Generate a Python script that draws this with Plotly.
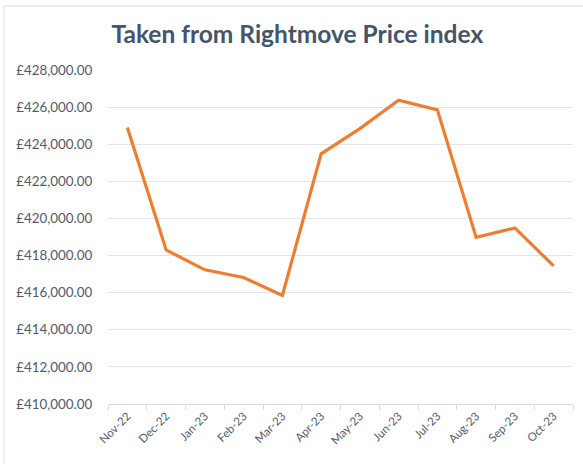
import plotly.graph_objects as go

months = ["Nov-22", "Dec-22", "Jan-23", "Feb-23", "Mar-23", "Apr-23",
          "May-23", "Jun-23", "Jul-23", "Aug-23", "Sep-23", "Oct-23"]
prices = [424900, 418300, 417230, 416820, 415850, 423480,
          424840, 426370, 425850, 418980, 419490, 417440]
y_ticks = list(range(410000, 428001, 2000))
y_tick_labels = ["\u00a3{:,.2f}".format(v) for v in y_ticks]

TEXT = "#505a6b"
GRID = "#e1e4ea"
FONT = "Lato, 'Open Sans', sans-serif"

fig = go.Figure()
fig.add_trace(go.Scatter(
    x=months, y=prices, mode="lines",
    line=dict(color="#ED7D31", width=3.2),
    hoverinfo="skip",
))

fig.update_layout(
    width=583, height=464,
    margin=dict(l=108, r=10, t=70, b=60, autoexpand=False),
    paper_bgcolor="white", plot_bgcolor="white",
    showlegend=False,
    font=dict(family=FONT, color=TEXT, size=12),
    title=dict(
        text="<b>Taken from Rightmove Price index</b>",
        x=0.51, xanchor="center", y=0.925, yanchor="middle",
        font=dict(size=24.5, color="#44546A", family=FONT),
    ),
    xaxis=dict(
        type="category", range=[-0.5, 11.5], automargin=False,
        showgrid=False, showline=True, linecolor="#d9dde3", linewidth=1,
        ticks="outside", tickson="boundaries", ticklen=5, tickcolor="#d9dde3",
        tickangle=-45, tickfont=dict(size=11.5, color=TEXT),
    ),
    yaxis=dict(
        range=[410000, 428000], tickvals=y_ticks, ticktext=y_tick_labels,
        automargin=False,
        showgrid=True, gridcolor=GRID, gridwidth=1,
        zeroline=False, showline=False,
        ticks="outside", ticklen=12, tickcolor="rgba(255,255,255,0)",
        tickfont=dict(size=13.4, color=TEXT),
    ),
    shapes=[
        dict(type="line", xref="paper", yref="paper",
             x0=(4 - 108) / 465, x1=(590 - 108) / 465,
             y0=(464 - 60 - 6) / 334, y1=(464 - 60 - 6) / 334,
             line=dict(color="#d9dee5", width=1)),
        dict(type="line", xref="paper", yref="paper",
             x0=(4 - 108) / 465, x1=(4 - 108) / 465,
             y0=(464 - 60 - 6) / 334, y1=-0.3,
             line=dict(color="#d9dee5", width=1)),
    ],
)

fig.write_html(
    "out.html",
    config={"displayModeBar": False, "staticPlot": True},
    post_script="document.body.style.margin='0px';document.body.style.overflow='hidden';",
)
